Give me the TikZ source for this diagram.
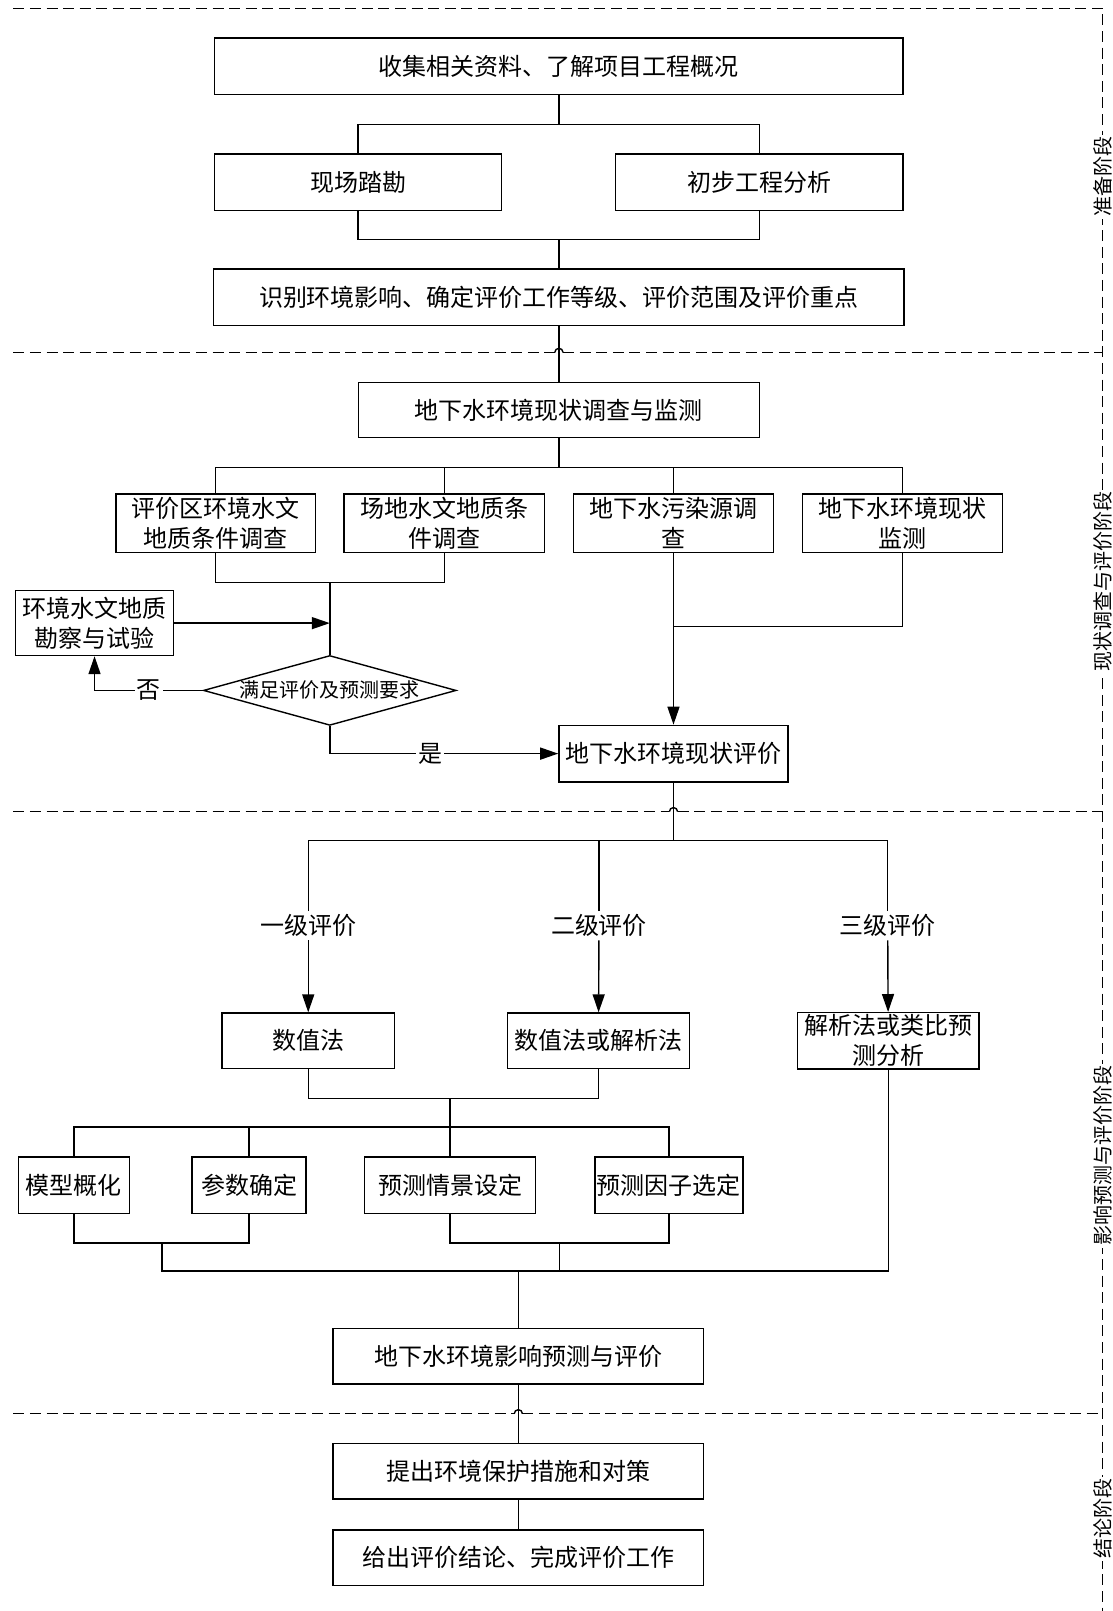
\documentclass[tikz,border=0pt]{standalone}
\usepackage{fontspec}
\setmainfont{Noto Sans CJK SC}
\usetikzlibrary{shapes.geometric,arrows.meta,calc}

\begin{document}
\begin{tikzpicture}[x=0.51385pt, y=-0.51385pt,
                box/.style={draw, line width=0.7pt, inner sep=1pt, align=center, font=\fontsize{12}{15}\selectfont},
                sz/.style 2 args={minimum width=#1*0.51385pt, minimum height=#2*0.51385pt},
                choice/.style={diamond, draw, line width=0.7pt, inner sep=0pt, aspect=3.62, font=\fontsize{10}{12}\selectfont},
                lbl/.style={inner sep=1.5pt, font=\fontsize{12}{15}\selectfont},
                tag/.style={fill=white, inner sep=1pt, font=\fontsize{12}{15}\selectfont},
                stage/.style={fill=white, rotate=90, inner sep=1pt, font=\fontsize{10}{12}\selectfont},
                link/.style={line width=0.7pt},
                arrow/.style={link, -{Triangle[length=9pt, width=6pt]}},
                stageline/.style={line width=0.7pt, dash pattern=on 5.5pt off 2.8pt}]

                \useasboundingbox (0,0) rectangle (1083,1568);

                % Stages
                \draw[stageline] (13,8) -- (1073,8) -- (1073,1568);
                \foreach \yy/\xx in {343/544, 790/655.5, 1376/504.5} {
                    \draw[stageline] (13,\yy) -- (\xx-4,\yy);
                    \draw[link] (\xx-4,\yy) arc[start angle=180, end angle=360, radius=4];
                    \draw[stageline] (\xx+4,\yy) -- (1073,\yy);
                }
                \node[stage] (st1) at (1073,172) {准备阶段};
                \node[stage] (st2) at (1073,566) {现状调查与评价阶段};
                \node[stage] (st3) at (1073,1125) {影响预测与评价阶段};
                \node[stage] (st4) at (1073,1478) {结论阶段};

                % Preparation
                \node[box, sz={670}{55}] (collect) at (544,64.5) {收集相关资料、了解项目工程概况};
                \node[box, sz={279}{55}] (site) at (348.5,177.5) {现场踏勘};
                \node[box, sz={280}{55}] (prelim) at (739,177.5) {初步工程分析};
                \node[box, sz={672}{55}] (identify) at (544,289.5) {识别环境影响、确定评价工作等级、评价范围及评价重点};

                % Survey
                \node[box, sz={390}{54}] (survey) at (544,399) {地下水环境现状调查与监测};
                \node[box, sz={194}{57}] (regional) at (210,509.5) {评价区环境水文\\地质条件调查};
                \node[box, sz={195}{57}] (siteh) at (432.5,509.5) {场地水文地质条\\件调查};
                \node[box, sz={195}{57}] (source) at (655.5,509.5) {地下水污染源调\\查};
                \node[box, sz={195}{57}] (monitor) at (878.5,509.5) {地下水环境现状\\监测};
                \node[box, sz={154}{63}] (field) at (92,606.5) {环境水文地质\\勘察与试验};
                \node[choice, minimum width=246*0.51385pt, minimum height=68*0.51385pt] (check) at (321,672) {满足评价及预测要求};
                \node[box, sz={223}{55}] (status) at (655.5,733.5) {地下水环境现状评价};

                % Prediction
                \node[lbl] (lv1) at (300,901) {一级评价};
                \node[lbl] (lv2) at (583,901) {二级评价};
                \node[lbl] (lv3) at (864,901) {三级评价};
                \node[box, sz={168}{54}] (num) at (300,1013) {数值法};
                \node[box, sz={177}{54}] (numb) at (582.5,1013) {数值法或解析法};
                \node[box, sz={177}{54}] (anal) at (864.5,1013) {解析法或类比预\\测分析};
                \node[box, sz={108}{55}] (concept) at (72,1153.5) {模型概化};
                \node[box, sz={111}{55}] (param) at (242.5,1153.5) {参数确定};
                \node[box, sz={166}{55}] (scene) at (438,1153.5) {预测情景设定};
                \node[box, sz={140}{55}] (factor) at (651,1153.5) {预测因子选定};
                \node[box, sz={361}{54}] (impact) at (504.5,1320) {地下水环境影响预测与评价};

                % Conclusion
                \node[box, sz={361}{54}] (measure) at (504.5,1432) {提出环境保护措施和对策};
                \node[box, sz={361}{54}] (conclude) at (504.5,1516) {给出评价结论、完成评价工作};

                % Connections
                \coordinate (b1) at (544,121);
                \coordinate (m1) at (544,233);
                \draw[link] (collect) -- (b1);
                \draw[link] (site.north) |- (b1) -| (prelim.north);
                \draw[link] (site.south) |- (m1) -| (prelim.south);
                \draw[link] (m1) -- (identify);
                \draw[link] (identify) -- (survey);

                \coordinate (b2) at (544,455);
                \coordinate (m2) at (321,567);
                \coordinate (m3) at (655.5,610);
                \draw[link] (survey) -- (b2);
                \draw[link] (regional.north) |- (b2) -| (monitor.north);
                \draw[link] (siteh.north) -- (siteh.north |- b2);
                \draw[link] (source.north) -- (source.north |- b2);
                \draw[link] (regional.south) |- (m2) -| (siteh.south);
                \draw[link] (m2) -- (check);
                \draw[arrow] (field) -- (field -| m2);
                \draw[arrow] (check) -| node[tag, pos=0.25] {否} (field);
                \draw[arrow] (check) |- node[tag, pos=0.72] {是} (status);
                \draw[link] (monitor.south) |- (m3);
                \draw[arrow] (source) -- (status);

                \coordinate (b3) at (655.5,818);
                \draw[link] (status) -- (b3);
                \draw[link] (lv1) |- (b3) -| (lv3);
                \draw[link] (lv2) -- (lv2 |- b3);
                \draw[arrow] (lv1) -- (num);
                \draw[arrow] (lv2) -- (numb);
                \draw[arrow] (lv3) -- (anal);

                \coordinate (m4) at (438,1069);
                \coordinate (b4) at (438,1097);
                \draw[link] (num) |- (m4) -| (numb);
                \draw[link] (m4) -- (b4);
                \draw[link] (concept.north) |- (b4) -| (factor.north);
                \draw[link] (param.north) -- (param.north |- b4);
                \draw[link] (scene.north) -- (scene.north |- b4);

                \coordinate (m5) at (157.5,1210);
                \coordinate (m6) at (544.5,1210);
                \coordinate (b5) at (504.5,1237);
                \draw[link] (concept.south) |- (m5) -| (param.south);
                \draw[link] (scene.south) |- (m6) -| (factor.south);
                \draw[link] (m5) |- (b5) -| (anal.south);
                \draw[link] (m6) -- (m6 |- b5);
                \draw[link] (b5) -- (impact);
                \draw[link] (impact) -- (measure);
                \draw[link] (measure) -- (conclude);

            \end{tikzpicture}
\end{document}
